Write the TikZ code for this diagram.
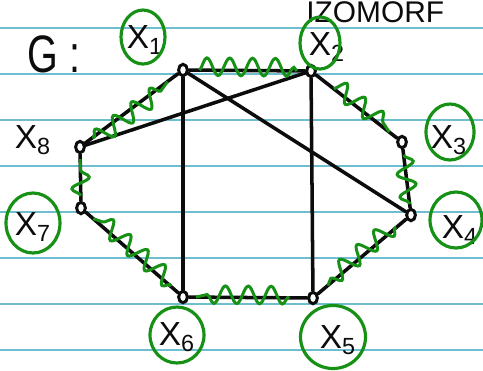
\documentclass[tikz,border=0pt]{standalone}
\usepackage{fontspec}
\setmainfont{Liberation Sans}
\usetikzlibrary{positioning, calc, shapes.geometric, decorations.pathmorphing}
\definecolor{ink}{RGB}{12, 12, 12}
\definecolor{marker}{RGB}{22, 145, 22}
\definecolor{ruling}{RGB}{110, 190, 208}

\begin{document}
\begin{tikzpicture}[
    x=0.02cm, y=-0.02cm,
    vtx/.style={
        draw=ink,
        ellipse,
        line width=1.7pt,
        minimum width=5pt,
        minimum height=6.5pt,
        inner sep=0pt,
        fill=white
    },
    link/.style={draw=ink, line width=2pt, line cap=round},
    wave/.style={
        draw=marker,
        line width=1.7pt,
        decorate,
        decoration={snake, amplitude=5pt, segment length=13pt, raise=#1}
    },
    wave/.default=0pt,
    ring/.style={draw=marker, line width=1.8pt, ellipse, inner sep=0pt},
    lbl/.style={font=\fontsize{19}{21}\selectfont, text=ink, inner sep=0pt},
    ruleline/.style={draw=ruling, line width=0.8pt}
]
\useasboundingbox (0,0) rectangle (483,370);
\clip (0,0) rectangle (483,370);

% === paper ===
\fill[white] (0,0) rectangle (483,370);
\foreach \y in {28,74,...,350}
    \draw[ruleline] (0,\y) -- (483,\y);

% === heading ===
\node[anchor=base west, font=\fontsize{17}{17}\selectfont, text=ink, inner sep=0pt] (title) at (306,22) {IZOMORF};
\node[font=\fontsize{30}{30}\selectfont, text=ink, inner sep=0pt, xscale=0.75] (gname) at (54,54) {G :};

% === vertices ===
\node[vtx] (x1) at (183,70) {};
\node[vtx] (x2) at (311,71) {};
\node[vtx] (x3) at (402,142) {};
\node[vtx] (x4) at (411,215) {};
\node[vtx] (x5) at (313,298) {};
\node[vtx] (x6) at (183,297) {};
\node[vtx] (x7) at (81,208) {};
\node[vtx] (x8) at (80,147) {};

% === edges ===
\draw[link] (x1) -- (x2) -- (x3) -- (x4) -- (x5) -- (x6) -- (x7) -- (x8) -- (x1);
\draw[link] (x1) -- (x6);
\draw[link] (x2) -- (x5);
\draw[link] (x1) -- (x4);
\draw[link] (x8) -- (x2);

% === marked cycle ===
\draw[wave=2pt] ($(x1)!0.13!(x2)$) -- ($(x1)!0.89!(x2)$);
\draw[wave=2pt] ($(x2)!0.25!(x3)$) -- ($(x2)!0.86!(x3)$);
\draw[wave] ($(x3)!0.18!(x4)$) -- ($(x3)!0.85!(x4)$);
\draw[wave=-2pt] ($(x4)!0.15!(x5)$) -- ($(x4)!0.85!(x5)$);
\draw[wave=-1.5pt] ($(x5)!0.18!(x6)$) -- ($(x5)!0.9!(x6)$);
\draw[wave=-2pt] ($(x6)!0.12!(x7)$) -- ($(x6)!0.88!(x7)$);
\draw[wave] ($(x7)!0.2!(x8)$) -- ($(x7)!0.8!(x8)$);
\draw[wave=-2pt] ($(x8)!0.12!(x1)$) -- ($(x8)!0.85!(x1)$);

% === labels ===
\node[lbl] (l1) at (145,40) {X\textsubscript{1}};
\node[lbl] (l2) at (327,47) {X\textsubscript{2}};
\node[lbl] (l3) at (449,140) {X\textsubscript{3}};
\node[lbl] (l4) at (460,230) {X\textsubscript{4}};
\node[lbl] (l5) at (338,340) {X\textsubscript{5}};
\node[lbl] (l6) at (177,337) {X\textsubscript{6}};
\node[lbl] (l7) at (33,227) {X\textsubscript{7}};
\node[lbl] (l8) at (33,140) {X\textsubscript{8}};

\node[ring, minimum width=0.88cm, minimum height=1.08cm] (r1) at (143,37) {};
\node[ring, minimum width=0.8cm, minimum height=1.04cm] (r2) at (320,43) {};
\node[ring, minimum width=0.96cm, minimum height=1.12cm] (r3) at (450,132) {};
\node[ring, minimum width=1.04cm, minimum height=1.12cm] (r4) at (456,220) {};
\node[ring, minimum width=1.3cm, minimum height=1.26cm] (r5) at (333,337) {};
\node[ring, minimum width=1.08cm, minimum height=1.12cm] (r6) at (177,335) {};
\node[ring, minimum width=1.08cm, minimum height=1.2cm] (r7) at (33,223) {};

\end{tikzpicture}
\end{document}
